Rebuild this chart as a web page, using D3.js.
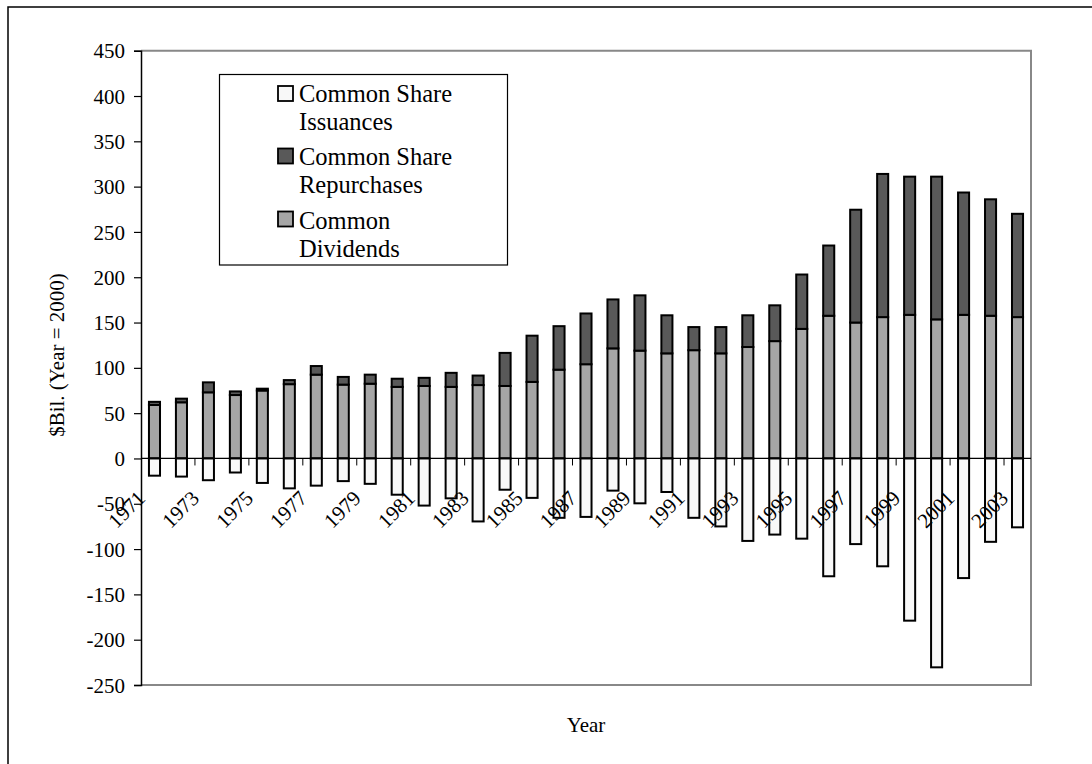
<!DOCTYPE html>
<html>
<head>
<meta charset="utf-8">
<script src="https://cdn.jsdelivr.net/npm/d3@7"></script>
<style>
html,body{margin:0;padding:0;background:#fff;}
svg{display:block;}
svg text{font-family:"Liberation Serif","Times New Roman",serif !important;fill:#000;}
</style>
</head>
<body>
<svg id="chart" width="1092" height="764"></svg>
<script>
const years = d3.range(1971, 2004).map(String);
const dividends = [59,62,73,70,75,82,92.5,81.5,82.5,79,80,79,81,80,84.5,98,104,121.5,119,116,119.5,116,123,129.5,143,157.5,150,156,158.5,153.5,158.5,157.5,156];
const repurchases = [3.5,4,11,4,2,4.5,9.5,8.5,10,9,9,15.5,10.5,36.5,51,48,56,54,61,42,25.5,29,35,39.5,60,77.5,124.5,158,152.5,157.5,135,128.5,114];
const issuances = [-19,-20,-24,-15.5,-27,-33,-30,-25,-28,-40,-52,-44,-69.5,-34.5,-43.5,-65.5,-64.5,-35.5,-49.5,-37,-65.5,-75,-91,-84,-88.5,-130,-94.5,-119,-179,-230.5,-132,-92,-76];
const yTicks = [-250,-200,-150,-100,-50,0,50,100,150,200,250,300,350,400,450];
const seriesNames = ["Common Share Issuances","Common Share Repurchases","Common Dividends"];
const legendLines = [["Common Share","Issuances"],["Common Share","Repurchases"],["Common","Dividends"]];
const colors = {iss:"#f8f8f8", rep:"#595959", div:"#a6a6a6"};

const svg = d3.select("#chart");
const L = 141, R = 1031, T = 50.7, B = 685;

// outer frame
svg.append("rect").attr("x",8).attr("y",7).attr("width",1200).attr("height",900)
  .attr("fill","none").attr("stroke","#000").attr("stroke-width",1.5);

const x = d3.scaleBand().domain(years).range([L,R]).paddingInner(0.59).paddingOuter(0.295);
const y = d3.scaleLinear().domain([-250,450]).range([B,T]);
const step = x.step();

// plot area border (gray)
svg.append("path").attr("d",`M${L},${T}H${R}V${B}H${L}`)
  .attr("fill","none").attr("stroke","#888").attr("stroke-width",2);

// bars
const g = svg.append("g");
const bw = x.bandwidth();
g.selectAll(".div").data(years).join("rect")
  .attr("x",d=>x(d)).attr("width",bw)
  .attr("y",(d,i)=>y(dividends[i])).attr("height",(d,i)=>y(0)-y(dividends[i]))
  .attr("fill",colors.div).attr("stroke","#000").attr("stroke-width",2);
g.selectAll(".rep").data(years).join("rect")
  .attr("x",d=>x(d)).attr("width",bw)
  .attr("y",(d,i)=>y(dividends[i]+repurchases[i])).attr("height",(d,i)=>y(dividends[i])-y(dividends[i]+repurchases[i]))
  .attr("fill",colors.rep).attr("stroke","#000").attr("stroke-width",2);
g.selectAll(".iss").data(years).join("rect")
  .attr("x",d=>x(d)).attr("width",bw)
  .attr("y",y(0)).attr("height",(d,i)=>y(issuances[i])-y(0))
  .attr("fill",colors.iss).attr("stroke","#000").attr("stroke-width",2);

// y axis
const yAxis = d3.axisLeft(y).tickValues(yTicks).tickSize(7).tickPadding(9).tickFormat(d=>String(d));
const ya = svg.append("g").attr("transform",`translate(${L},0)`).call(yAxis)
  .attr("font-family",null).attr("font-size",null);
ya.select(".domain").attr("stroke","#000").attr("stroke-width",1.5);
ya.selectAll(".tick line").attr("stroke","#000").attr("stroke-width",1.2);
ya.selectAll(".tick text").style("font-size","21px").attr("fill","#000").attr("dy","0.34em");

// x axis at zero
const zeroY = y(0);
svg.append("line").attr("x1",L).attr("x2",R).attr("y1",zeroY).attr("y2",zeroY).attr("stroke","#000").attr("stroke-width",1.2);
const tickBounds = d3.range(2, years.length, 2);
svg.selectAll(".xt").data(tickBounds).join("line")
  .attr("x1",k=>L+k*step).attr("x2",k=>L+k*step).attr("y1",zeroY).attr("y2",zeroY+7)
  .attr("stroke","#000").attr("stroke-width",1);
const labYears = years.filter((d,i)=>i%2===0);
svg.selectAll(".xl").data(labYears).join("text")
  .attr("text-anchor","end")
  .attr("transform",d=>`translate(${x(d)+bw/2-8},${zeroY+41}) rotate(-45)`)
  .style("font-size","21px").text(d=>d);

// axis titles
svg.append("text").attr("x",586).attr("y",732).attr("text-anchor","middle").style("font-size","21px").text("Year");
svg.append("text").attr("transform","translate(64,355) rotate(-90)").attr("text-anchor","middle").style("font-size","21px").text("$Bil. (Year = 2000)");

// legend
const lg = svg.append("g");
lg.append("rect").attr("x",219.5).attr("y",74.5).attr("width",288).attr("height",190.5)
  .attr("fill","#fff").attr("stroke","#000").attr("stroke-width",1.2);
const lcol = [colors.iss, colors.rep, colors.div];
const swY = [86, 148.5, 211.5];
const baseY = [101.5, 165, 228.5];
seriesNames.forEach((nm,i)=>{
  lg.append("rect").attr("x",278).attr("y",swY[i]).attr("width",15).attr("height",15)
    .attr("fill",lcol[i]).attr("stroke","#000").attr("stroke-width",1.8);
  legendLines[i].forEach((ln,j)=>{
    lg.append("text").attr("x",299).attr("y",baseY[i]+j*28).style("font-size","24.5px").text(ln);
  });
});
</script>
</body>
</html>
